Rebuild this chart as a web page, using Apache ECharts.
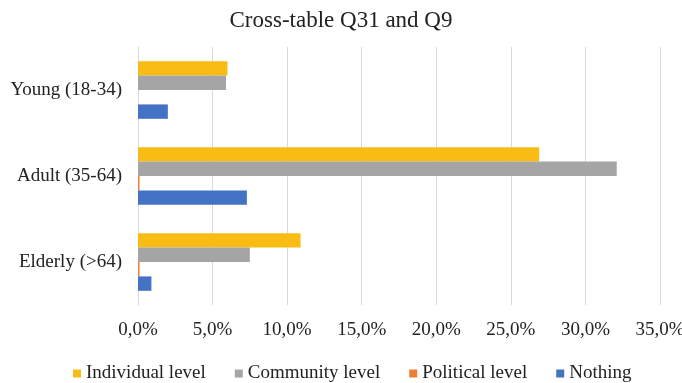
<!DOCTYPE html>
<html><head><meta charset="utf-8">
<script src="https://cdn.jsdelivr.net/npm/echarts@6/dist/echarts.min.js"></script>
<style>html,body{margin:0;padding:0;background:#fff}#c{width:682px;height:383px}</style>
</head><body><div id="c"></div>
<script>
var categories = ['Young (18-34)', 'Adult (35-64)', 'Elderly (>64)'];
var individual = [6.0, 26.9, 10.9];
var community = [5.9, 32.1, 7.5];
var political = [0, 0.1, 0.1];
var nothing = [2.0, 7.3, 0.9];
var seriesNames = ['Individual level', 'Community level', 'Political level', 'Nothing'];
var colors = ['#F9BC15', '#A5A5A5', '#ED7D31', '#4472C4'];
var font = '"Liberation Serif", "Times New Roman", serif';
var chart = echarts.init(document.getElementById('c'));
var dataSets = [individual, community, political, nothing];
chart.setOption({
  animation: false,
  title: {text: 'Cross-table Q31 and Q9', left: 'center', top: 4,
    textStyle: {fontFamily: font, fontSize: 23, fontWeight: 'normal', color: '#222'}},
  legend: {top: 364, left: 73, padding: 0, itemWidth: 8, itemHeight: 8, itemGap: 29,
    icon: 'rect', textStyle: {fontFamily: font, fontSize: 19, color: '#222'},
    data: seriesNames},
  grid: {left: 138, right: 22, top: 47, bottom: 78, outerBoundsMode: 'none', containLabel: false},
  xAxis: {type: 'value', min: 0, max: 35, interval: 5,
    axisLabel: {formatter: function(v){return v.toFixed(1).replace('.', ',') + '%';},
      fontFamily: font, fontSize: 19, color: '#222', margin: 16},
    splitLine: {lineStyle: {color: '#D9D9D9'}}, axisLine: {show: false}, axisTick: {show: false}},
  yAxis: {type: 'category', data: categories, inverse: true,
    axisLabel: {fontFamily: font, fontSize: 19, color: '#222', margin: 16},
    axisLine: {lineStyle: {color: '#D9D9D9'}}, axisTick: {show: false}},
  series: seriesNames.map(function(n, i){
    return {name: n, type: 'bar', data: dataSets[i], itemStyle: {color: colors[i]},
      barGap: '0%', barCategoryGap: '33%'};
  })
});
</script></body></html>
